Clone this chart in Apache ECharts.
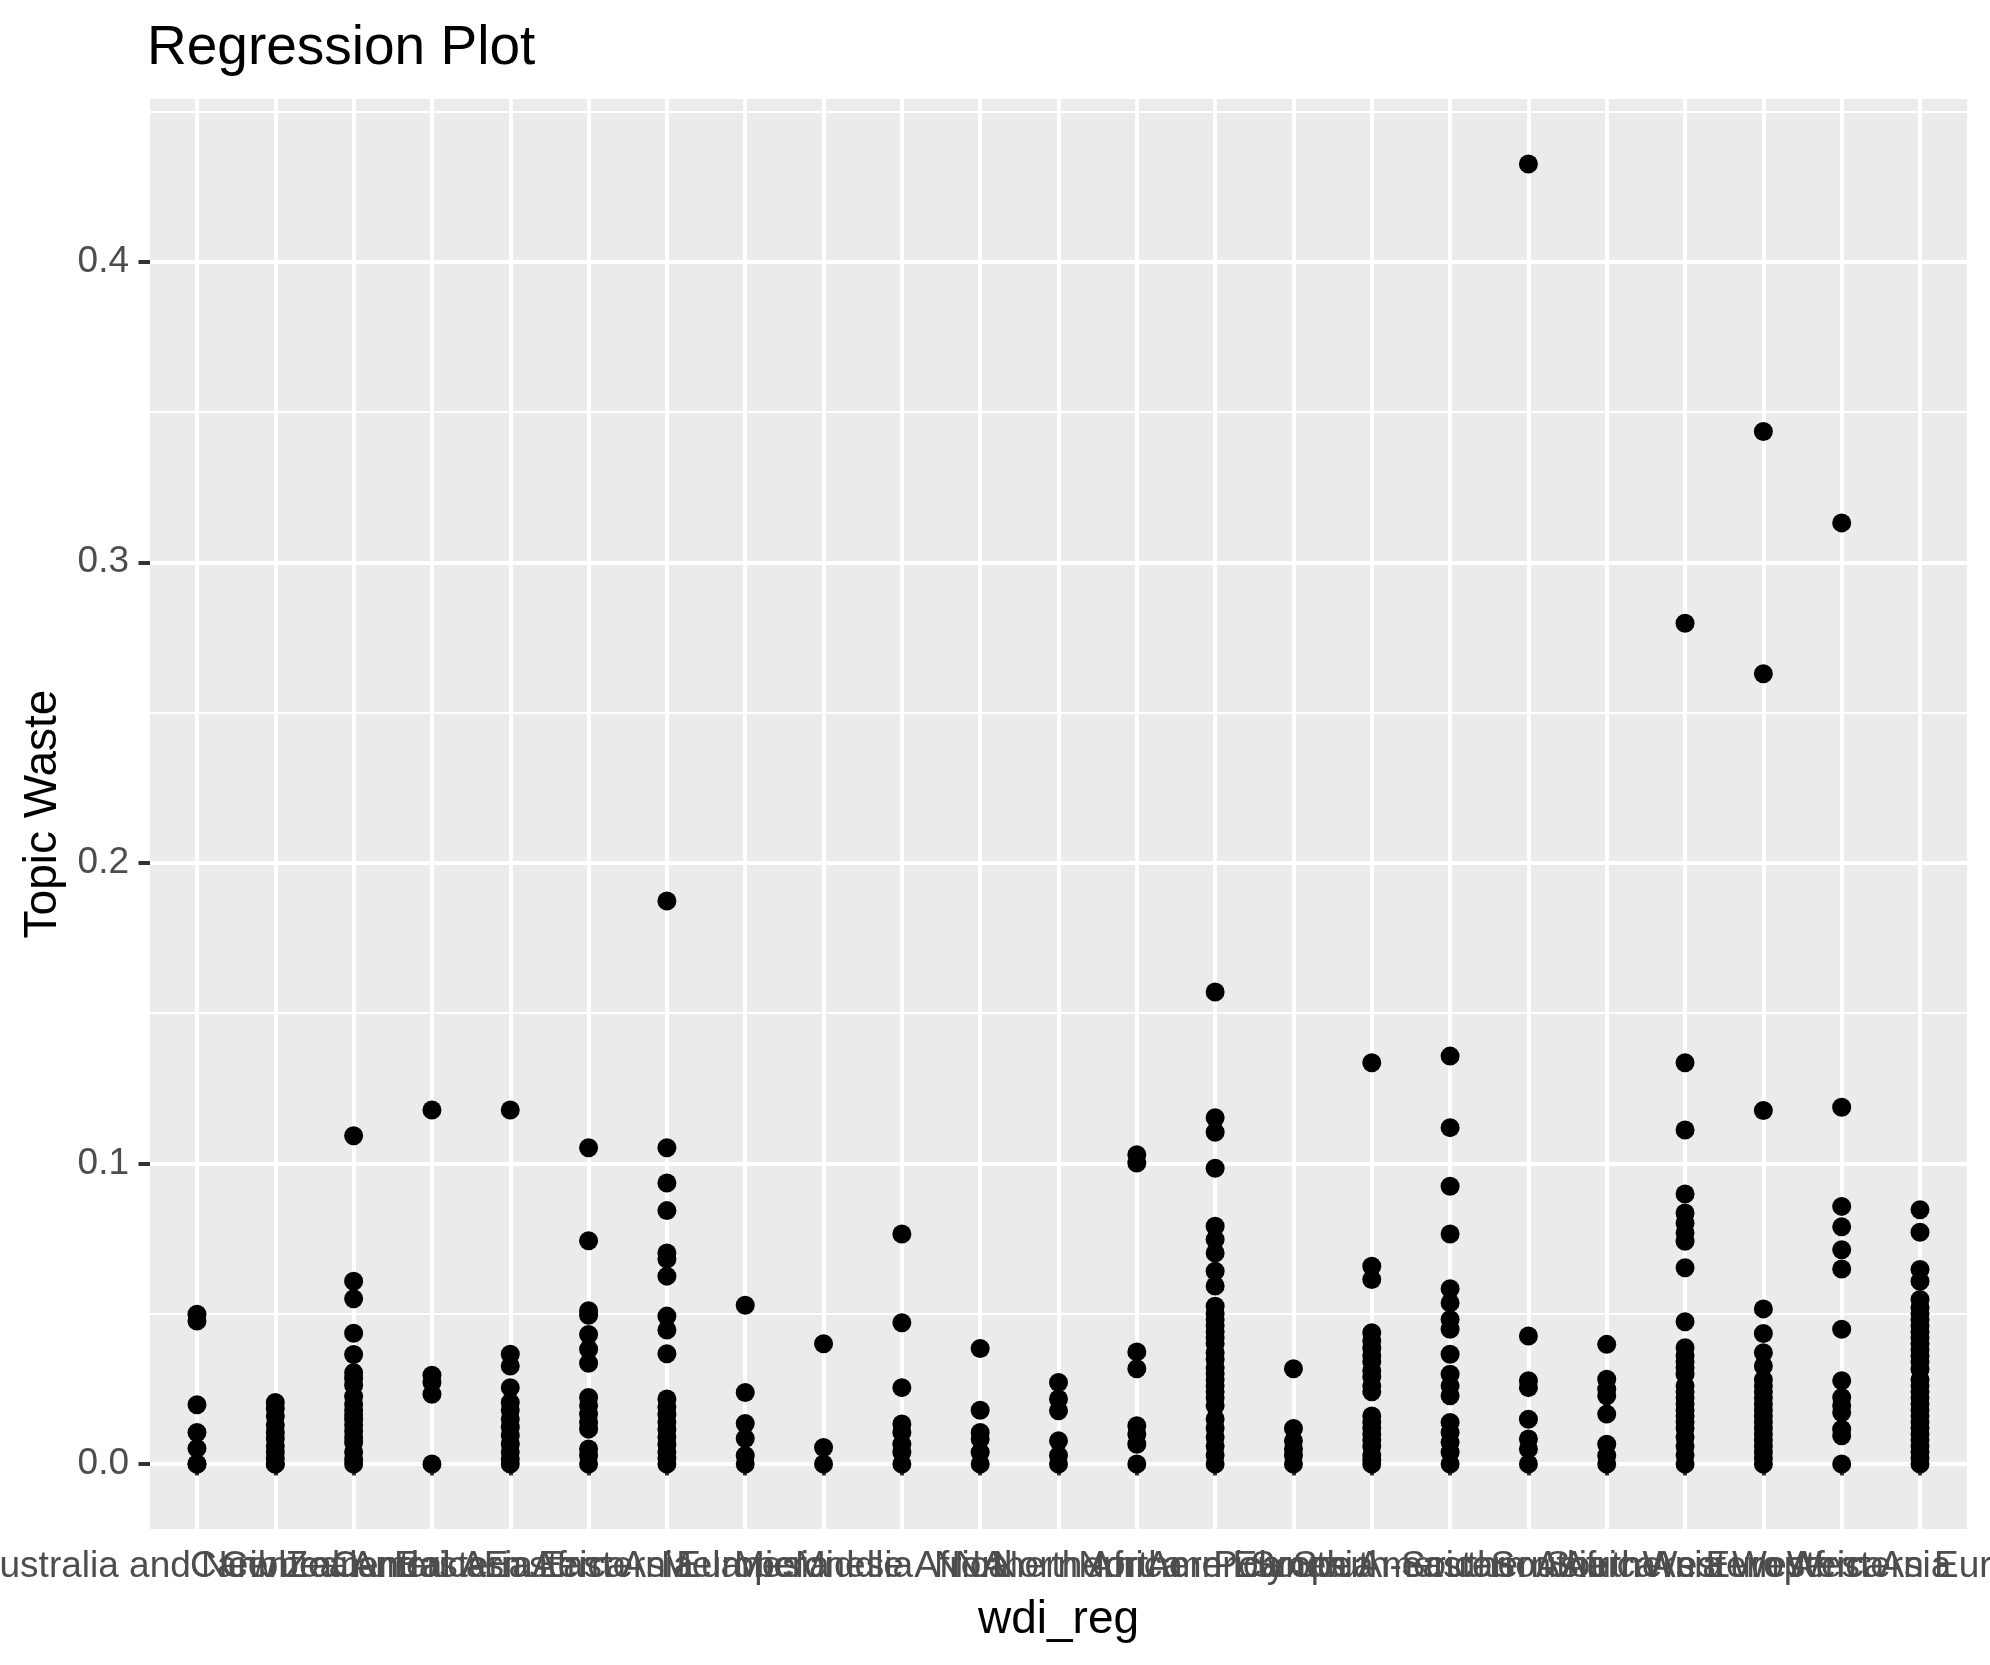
<!DOCTYPE html>
<html>
<head>
<meta charset="utf-8">
<script src="https://cdn.jsdelivr.net/npm/echarts@6/dist/echarts.min.js"></script>
<style>
html,body{margin:0;padding:0;background:#ffffff;}
#chart{width:1990px;height:1665px;}
</style>
</head>
<body>
<div id="chart"></div>
<script>
// ---------- data ----------
const categories = [
  "Australia and New Zealand", "Caribbean", "Central America", "Central Asia",
  "Eastern Africa", "Eastern Asia", "Eastern Europe", "Melanesia", "Micronesia",
  "Middle Africa", "NA", "Northern Africa", "Northern America", "Northern Europe",
  "Polynesia", "South America", "South-eastern Asia", "Southern Africa",
  "Southern Asia", "Southern Europe", "Western Africa", "Western Asia", "Western Europe"
];
const australiaNZ = [0.0498, 0.0476, 0.0197, 0.0105, 0.0052, 0.0, 0.0];
const caribbean = [0.0205, 0.0185, 0.0160, 0.0130, 0.0105, 0.0085, 0.0060, 0.0040, 0.0020, 0.0, 0.0];
const centralAmerica = [0.1092, 0.0608, 0.0550, 0.0435, 0.0364, 0.0304, 0.0285, 0.0262, 0.0225, 0.0200, 0.0180, 0.0163, 0.0148, 0.0130, 0.0110, 0.0090, 0.0072, 0.0040, 0.0015, 0.0];
const centralAsia = [0.1178, 0.0295, 0.0271, 0.0232, 0.0];
const easternAfrica = [0.1178, 0.0365, 0.0326, 0.0254, 0.0205, 0.0180, 0.0150, 0.0122, 0.0095, 0.0066, 0.0040, 0.0017, 0.0];
const easternAsia = [0.1052, 0.0743, 0.0510, 0.0495, 0.0431, 0.0382, 0.0335, 0.0221, 0.0194, 0.0166, 0.0138, 0.0116, 0.0050, 0.0028, 0.0];
const easternEurope = [0.1873, 0.1052, 0.0935, 0.0843, 0.0702, 0.0682, 0.0625, 0.0492, 0.0446, 0.0367, 0.0216, 0.0190, 0.0165, 0.0140, 0.0115, 0.0090, 0.0065, 0.0040, 0.0020, 0.0];
const melanesia = [0.0528, 0.0238, 0.0135, 0.0085, 0.0028, 0.0];
const micronesia = [0.0400, 0.0055, 0.0];
const middleAfrica = [0.0765, 0.0470, 0.0254, 0.0133, 0.0105, 0.0066, 0.0039, 0.0];
const naRegion = [0.0384, 0.0179, 0.0105, 0.0083, 0.0039, 0.0];
const northernAfrica = [0.0271, 0.0216, 0.0177, 0.0077, 0.0028, 0.0];
const northernAmerica = [0.1029, 0.1001, 0.0373, 0.0317, 0.0127, 0.0100, 0.0066, 0.0];
const northernEurope = [0.1570, 0.1152, 0.1104, 0.0984, 0.0791, 0.0747, 0.0702, 0.0641, 0.0592, 0.0525, 0.0500, 0.0480, 0.0460, 0.0440, 0.0420, 0.0400, 0.0370, 0.0348, 0.0320, 0.0300, 0.0280, 0.0260, 0.0240, 0.0220, 0.0194, 0.0150, 0.0120, 0.0090, 0.0060, 0.0030, 0.0];
const polynesia = [0.0317, 0.0118, 0.0077, 0.0050, 0.0028, 0.0];
const southAmerica = [0.1335, 0.0658, 0.0614, 0.0437, 0.0410, 0.0385, 0.0360, 0.0340, 0.0310, 0.0290, 0.0260, 0.0240, 0.0160, 0.0140, 0.0120, 0.0100, 0.0080, 0.0060, 0.0030, 0.0014, 0.0];
const southeasternAsia = [0.1357, 0.1119, 0.0924, 0.0765, 0.0583, 0.0536, 0.0481, 0.0448, 0.0365, 0.0299, 0.0260, 0.0227, 0.0138, 0.0105, 0.0072, 0.0039, 0.0];
const southernAfrica = [0.4325, 0.0426, 0.0277, 0.0254, 0.0149, 0.0083, 0.0050, 0.0];
const southernAsia = [0.0398, 0.0282, 0.0249, 0.0227, 0.0166, 0.0066, 0.0028, 0.0];
const southernEurope = [0.2797, 0.1335, 0.1111, 0.0898, 0.0835, 0.0802, 0.0769, 0.0741, 0.0653, 0.0473, 0.0387, 0.0360, 0.0340, 0.0320, 0.0299, 0.0260, 0.0240, 0.0220, 0.0200, 0.0180, 0.0160, 0.0140, 0.0120, 0.0090, 0.0060, 0.0030, 0.0];
const westernAfrica = [0.3435, 0.2629, 0.1176, 0.0516, 0.0434, 0.0370, 0.0326, 0.0280, 0.0260, 0.0240, 0.0220, 0.0200, 0.0180, 0.0160, 0.0140, 0.0120, 0.0100, 0.0080, 0.0060, 0.0040, 0.0020, 0.0];
const westernAsia = [0.3131, 0.1187, 0.0857, 0.0789, 0.0713, 0.0649, 0.0448, 0.0277, 0.0221, 0.0194, 0.0171, 0.0116, 0.0094, 0.0];
const westernEurope = [0.0846, 0.0771, 0.0647, 0.0608, 0.0547, 0.0520, 0.0500, 0.0480, 0.0460, 0.0440, 0.0420, 0.0400, 0.0380, 0.0360, 0.0340, 0.0315, 0.0280, 0.0260, 0.0240, 0.0220, 0.0200, 0.0180, 0.0160, 0.0140, 0.0120, 0.0100, 0.0080, 0.0060, 0.0040, 0.0020, 0.0];

const yMajorTicks = [0, 0.1, 0.2, 0.3, 0.4];
const yMinorTicks = [0.05, 0.15, 0.25, 0.35, 0.45];

const valuesByCategory = [
  australiaNZ, caribbean, centralAmerica, centralAsia, easternAfrica, easternAsia,
  easternEurope, melanesia, micronesia, middleAfrica, naRegion, northernAfrica,
  northernAmerica, northernEurope, polynesia, southAmerica, southeasternAsia,
  southernAfrica, southernAsia, southernEurope, westernAfrica, westernAsia, westernEurope
];

// ---------- build ----------
const points = [];
valuesByCategory.forEach((vals, i) => vals.forEach(v => points.push([categories[i], v])));
const allVals = points.map(p => p[1]);
const dMin = Math.min(...allVals), dMax = Math.max(...allVals);
const pad = (dMax - dMin) * 0.05;
const yMin = dMin - pad, yMax = dMax + pad;

// panel geometry (ggplot-like)
const W = 1990, H = 1665;
const panelLeft = 150, panelRight = 1967, panelTop = 99, panelBottom = 1529;
const unit = (panelRight - panelLeft) / (categories.length - 1 + 1.2);
const inset = 0.6 * unit;

const FONT = "'Liberation Sans', Arial, Helvetica, sans-serif";
const labelColor = '#4D4D4D';

const chart = echarts.init(document.getElementById('chart'), null, {renderer: 'canvas'});
chart.setOption({
  animation: false,
  backgroundColor: '#FFFFFF',
  textStyle: {fontFamily: FONT},
  title: {
    text: 'Regression Plot',
    left: 147,
    top: 21,
    padding: 0,
    textStyle: {fontSize: 55, fontWeight: 'normal', color: '#000000', fontFamily: FONT}
  },
  grid: [
    {
      left: panelLeft, right: W - panelRight, top: panelTop, bottom: H - panelBottom,
      show: true, backgroundColor: '#EBEBEB', borderWidth: 0, containLabel: false,
      outerBoundsMode: 'none'
    },
    {
      left: panelLeft + inset, right: W - panelRight + inset, top: panelTop, bottom: H - panelBottom,
      show: false, containLabel: false, outerBoundsMode: 'none'
    }
  ],
  xAxis: [
    {gridIndex: 0, type: 'value', min: 0, max: 1, show: false},
    {
      gridIndex: 1, type: 'category', data: categories, boundaryGap: false,
      name: 'wdi_reg', nameLocation: 'middle', nameGap: 68,
      nameTextStyle: {fontSize: 46, color: '#000000', fontFamily: FONT},
      axisLine: {show: false},
      axisTick: {show: true, interval: 0, length: 11.5, lineStyle: {color: '#333333', width: 4}},
      axisLabel: {show: true, interval: 0, hideOverlap: false, margin: 19, fontSize: 37, color: labelColor, fontFamily: FONT},
      splitLine: {show: true, interval: 0, lineStyle: {color: '#FFFFFF', width: 4}}
    }
  ],
  yAxis: [
    {
      gridIndex: 0, type: 'value', min: yMin, max: yMax,
      name: 'Topic Waste', nameLocation: 'middle', nameGap: 84, nameRotate: 90,
      nameTextStyle: {fontSize: 46, color: '#000000', fontFamily: FONT},
      axisLine: {show: false},
      axisTick: {show: true, length: 11.5, customValues: yMajorTicks, lineStyle: {color: '#333333', width: 4}},
      axisLabel: {show: true, margin: 21, fontSize: 37, color: labelColor, fontFamily: FONT,
        customValues: yMajorTicks, formatter: v => Number(v).toFixed(1)},
      splitLine: {show: true, lineStyle: {color: '#FFFFFF', width: 4}}
    },
    {
      gridIndex: 0, type: 'value', min: yMin, max: yMax,
      axisLine: {show: false},
      axisTick: {show: false, customValues: yMinorTicks},
      axisLabel: {show: false},
      splitLine: {show: true, lineStyle: {color: '#FFFFFF', width: 2}}
    },
    {gridIndex: 1, type: 'value', min: yMin, max: yMax, show: false, splitLine: {show: false}}
  ],
  series: [
    {
      type: 'scatter', xAxisIndex: 1, yAxisIndex: 2, data: points,
      symbol: 'circle', symbolSize: 19, z: 5,
      itemStyle: {color: '#000000', borderWidth: 0, opacity: 1},
      emphasis: {disabled: true}
    }
  ]
});
</script>
</body>
</html>
